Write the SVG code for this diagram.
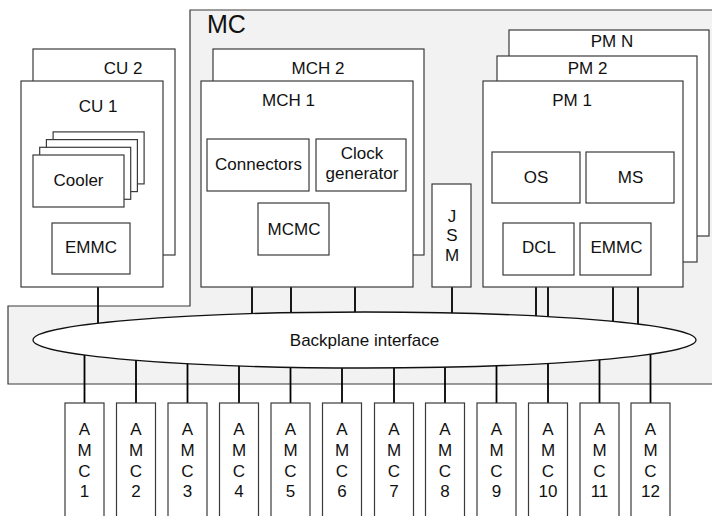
<svg xmlns="http://www.w3.org/2000/svg" width="712" height="516" viewBox="0 0 712 516">
<style>
.box{fill:#fff;stroke:#3a3a3a;stroke-width:1.2}
.mc{fill:#f2f2f2;stroke:#3a3a3a;stroke-width:1.2}
.t{font-family:"Liberation Sans",Arial,sans-serif;font-size:17px;fill:#111;text-anchor:middle}
.big{font-family:"Liberation Sans",Arial,sans-serif;font-size:25px;fill:#111}
.ln{stroke:#000;stroke-width:1.8;fill:none}
</style>
<rect width="712" height="516" fill="#fff"/>
<g id="mc">
<path class="mc" d="M720,10 H190 V306 H8 V384 H720"/>
<text class="big" x="207" y="33">MC</text>
</g>
<g id="connectors">
<line class="ln" x1="98" y1="274" x2="98" y2="340"/>
<line class="ln" x1="252" y1="191" x2="252" y2="340"/>
<line class="ln" x1="291" y1="255" x2="291" y2="340"/>
<line class="ln" x1="355" y1="191" x2="355" y2="340"/>
<line class="ln" x1="452" y1="287" x2="452" y2="340"/>
<line class="ln" x1="548" y1="203" x2="548" y2="223"/>
<line class="ln" x1="638" y1="203" x2="638" y2="223"/>
<line class="ln" x1="536" y1="275" x2="536" y2="340"/>
<line class="ln" x1="548" y1="275" x2="548" y2="340"/>
<line class="ln" x1="613" y1="275" x2="613" y2="340"/>
<line class="ln" x1="638" y1="275" x2="638" y2="340"/>
<line class="ln" x1="84.5" y1="340" x2="84.5" y2="403"/>
<line class="ln" x1="136" y1="340" x2="136" y2="403"/>
<line class="ln" x1="187.5" y1="340" x2="187.5" y2="403"/>
<line class="ln" x1="239" y1="340" x2="239" y2="403"/>
<line class="ln" x1="290.5" y1="340" x2="290.5" y2="403"/>
<line class="ln" x1="342" y1="340" x2="342" y2="403"/>
<line class="ln" x1="394" y1="340" x2="394" y2="403"/>
<line class="ln" x1="445" y1="340" x2="445" y2="403"/>
<line class="ln" x1="496.5" y1="340" x2="496.5" y2="403"/>
<line class="ln" x1="548" y1="340" x2="548" y2="403"/>
<line class="ln" x1="599.5" y1="340" x2="599.5" y2="403"/>
<line class="ln" x1="650.5" y1="340" x2="650.5" y2="403"/>
</g>
<g id="backplane">
<ellipse cx="364.5" cy="340" rx="331.5" ry="28" fill="#fff" stroke="#111" stroke-width="1.3"/>
<text class="t" x="364.5" y="346">Backplane interface</text>
</g>
<g id="cu2">
<rect class="box" x="33" y="49" width="142" height="206"/>
<text class="t" x="123" y="74">CU 2</text>
</g>
<g id="cu1">
<rect class="box" x="21" y="81" width="142" height="206"/>
<text class="t" x="98" y="112">CU 1</text>
</g>
<g id="cooler">
<rect class="box" x="53.1" y="131.9" width="91" height="52"/>
<rect class="box" x="46.4" y="139.6" width="91" height="52"/>
<rect class="box" x="39.7" y="147.3" width="91" height="52"/>
<rect class="box" x="33" y="155" width="91" height="52"/>
<text class="t" x="78.5" y="186">Cooler</text>
</g>
<g id="cu-emmc">
<rect class="box" x="52" y="223" width="78" height="51"/>
<text class="t" x="91" y="253">EMMC</text>
</g>
<g id="mch2">
<rect class="box" x="213" y="49" width="211" height="206"/>
<text class="t" x="318" y="74">MCH 2</text>
</g>
<g id="mch1">
<rect class="box" x="201" y="81" width="212" height="206"/>
<text class="t" x="288.5" y="106">MCH 1</text>
</g>
<g id="connectors-box">
<rect class="box" x="207" y="139" width="102" height="52"/>
<text class="t" x="258.5" y="170">Connectors</text>
</g>
<g id="clock">
<rect class="box" x="316" y="139" width="90" height="52"/>
<text class="t" x="362" y="159">Clock</text>
<text class="t" x="362" y="179">generator</text>
</g>
<g id="mcmc">
<rect class="box" x="258" y="203" width="71" height="52"/>
<text class="t" x="294" y="235">MCMC</text>
</g>
<g id="jsm">
<rect class="box" x="432" y="184" width="39" height="103"/>
<text class="t" x="452" y="222">J</text>
<text class="t" x="452" y="241">S</text>
<text class="t" x="452" y="261">M</text>
</g>
<g id="pmn">
<rect class="box" x="509" y="30" width="200" height="206"/>
<text class="t" x="612" y="47">PM N</text>
</g>
<g id="pm2">
<rect class="box" x="497" y="56" width="200" height="206"/>
<text class="t" x="587.5" y="74">PM 2</text>
</g>
<g id="pm1">
<rect class="box" x="483" y="81" width="200" height="206"/>
<text class="t" x="572" y="106">PM 1</text>
</g>
<g id="os">
<rect class="box" x="492" y="152" width="88" height="51"/>
<text class="t" x="536" y="183">OS</text>
</g>
<g id="ms">
<rect class="box" x="586" y="152" width="88" height="51"/>
<text class="t" x="630.5" y="183">MS</text>
</g>
<g id="dcl">
<rect class="box" x="503" y="223" width="71" height="52"/>
<text class="t" x="539" y="253">DCL</text>
</g>
<g id="pm-emmc">
<rect class="box" x="580" y="223" width="71" height="52"/>
<text class="t" x="616.5" y="253">EMMC</text>
</g>
<g id="amc1"><rect class="box" x="65" y="403" width="39" height="120"/><text class="t" x="84.5" y="435">A</text><text class="t" x="84.5" y="456">M</text><text class="t" x="84.5" y="477">C</text><text class="t" x="84.5" y="497">1</text></g>
<g id="amc2"><rect class="box" x="116.5" y="403" width="39" height="120"/><text class="t" x="136" y="435">A</text><text class="t" x="136" y="456">M</text><text class="t" x="136" y="477">C</text><text class="t" x="136" y="497">2</text></g>
<g id="amc3"><rect class="box" x="168" y="403" width="39" height="120"/><text class="t" x="187.5" y="435">A</text><text class="t" x="187.5" y="456">M</text><text class="t" x="187.5" y="477">C</text><text class="t" x="187.5" y="497">3</text></g>
<g id="amc4"><rect class="box" x="219.5" y="403" width="39" height="120"/><text class="t" x="239" y="435">A</text><text class="t" x="239" y="456">M</text><text class="t" x="239" y="477">C</text><text class="t" x="239" y="497">4</text></g>
<g id="amc5"><rect class="box" x="271" y="403" width="39" height="120"/><text class="t" x="290.5" y="435">A</text><text class="t" x="290.5" y="456">M</text><text class="t" x="290.5" y="477">C</text><text class="t" x="290.5" y="497">5</text></g>
<g id="amc6"><rect class="box" x="322.5" y="403" width="39" height="120"/><text class="t" x="342" y="435">A</text><text class="t" x="342" y="456">M</text><text class="t" x="342" y="477">C</text><text class="t" x="342" y="497">6</text></g>
<g id="amc7"><rect class="box" x="374.5" y="403" width="39" height="120"/><text class="t" x="394" y="435">A</text><text class="t" x="394" y="456">M</text><text class="t" x="394" y="477">C</text><text class="t" x="394" y="497">7</text></g>
<g id="amc8"><rect class="box" x="425.5" y="403" width="39" height="120"/><text class="t" x="445" y="435">A</text><text class="t" x="445" y="456">M</text><text class="t" x="445" y="477">C</text><text class="t" x="445" y="497">8</text></g>
<g id="amc9"><rect class="box" x="477" y="403" width="39" height="120"/><text class="t" x="496.5" y="435">A</text><text class="t" x="496.5" y="456">M</text><text class="t" x="496.5" y="477">C</text><text class="t" x="496.5" y="497">9</text></g>
<g id="amc10"><rect class="box" x="528.5" y="403" width="39" height="120"/><text class="t" x="548" y="435">A</text><text class="t" x="548" y="456">M</text><text class="t" x="548" y="477">C</text><text class="t" x="548" y="497">10</text></g>
<g id="amc11"><rect class="box" x="580" y="403" width="39" height="120"/><text class="t" x="599.5" y="435">A</text><text class="t" x="599.5" y="456">M</text><text class="t" x="599.5" y="477">C</text><text class="t" x="599.5" y="497">11</text></g>
<g id="amc12"><rect class="box" x="631" y="403" width="39" height="120"/><text class="t" x="650.5" y="435">A</text><text class="t" x="650.5" y="456">M</text><text class="t" x="650.5" y="477">C</text><text class="t" x="650.5" y="497">12</text></g>
</svg>
